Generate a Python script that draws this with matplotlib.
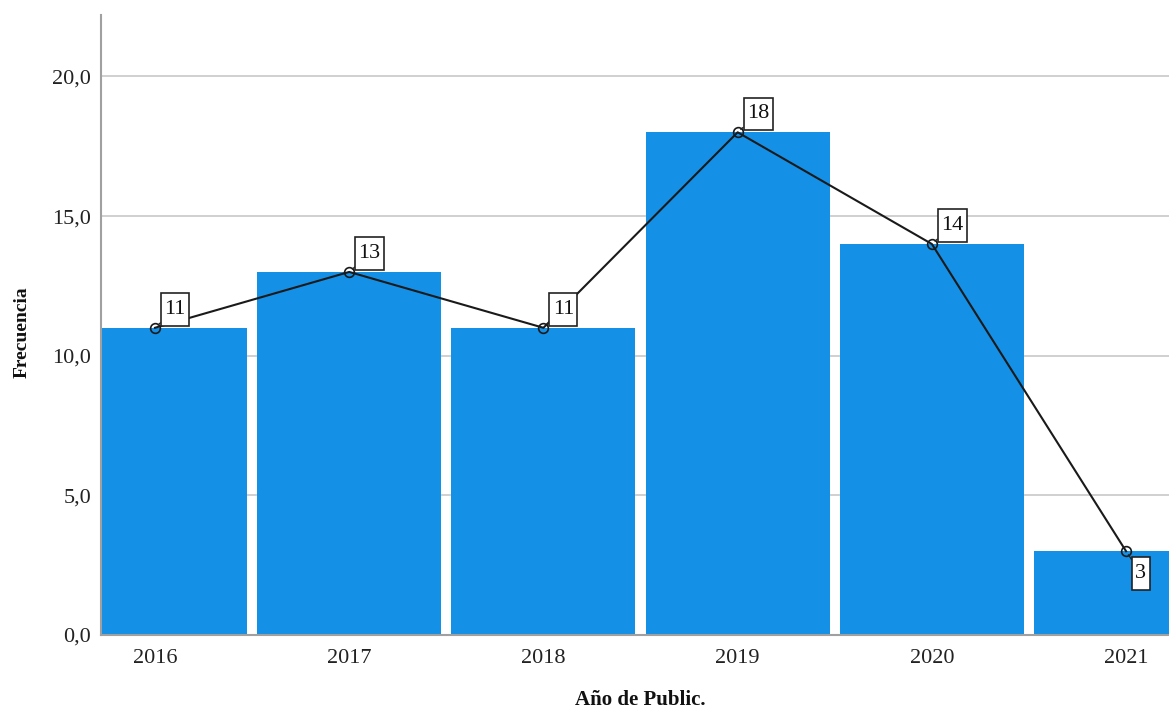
import matplotlib.pyplot as plt
from matplotlib.path import Path
from matplotlib.ticker import FuncFormatter

years = ['2016', '2017', '2018', '2019', '2020', '2021']
freq = [11, 13, 11, 18, 14, 3]
# label position for each point: above-right, except the last one below-right
label_below = [False, False, False, False, False, True]

plt.rcParams['font.family'] = ['Liberation Serif', 'DejaVu Serif']


def tall_box(x0, y0, width, height, mutation_size):
    # square label box with more vertical than horizontal padding
    px = 0.15 * mutation_size
    py = 0.31 * mutation_size
    l, r = x0 - px, x0 + width + px
    b, t = y0 - py, y0 + height + py
    return Path([(l, b), (r, b), (r, t), (l, t), (l, b)], closed=True)


fig = plt.figure(figsize=(11.69, 7.08), dpi=100)
ax = fig.add_axes([101 / 1169, 1 - 635 / 708, 1 - 101 / 1169, 620 / 708])

x = list(range(len(years)))
ax.bar(x, freq, width=0.948, color='#1490e6', zorder=2)
ax.plot(x, freq, color='#1a1a1a', linewidth=1.5, marker='o', markersize=7,
        markerfacecolor='none', markeredgecolor='#1a1a1a', markeredgewidth=1.2,
        zorder=3)

for xi, v, below in zip(x, freq, label_below):
    if below:
        off, va = (6.7, -9.3), 'top'
    else:
        off, va = (6.7, 6.4), 'bottom'
    ax.annotate(str(v), xy=(xi, v), xytext=off, textcoords='offset points',
                ha='left', va=va, fontsize=16, color='#111111', zorder=4,
                bbox=dict(boxstyle=tall_box, fc='white', ec='#222222', lw=1.2),
                arrowprops=dict(arrowstyle='-', color='#222222', lw=0.9,
                                shrinkA=0, shrinkB=3))

ax.set_xlim(-0.278, 5.221)
ax.set_ylim(0, 22.2)
ax.set_xticks(x)
ax.set_xticklabels(years)
ax.set_yticks([0, 5, 10, 15, 20])
ax.yaxis.set_major_formatter(FuncFormatter(lambda v, p: f'{v:.1f}'.replace('.', ',')))
ax.tick_params(axis='both', length=0, labelsize=16, labelcolor='#222222')
ax.tick_params(axis='x', pad=10)
ax.tick_params(axis='y', pad=7)

ax.grid(axis='y', color='#c8c8c8', linewidth=1.2, zorder=0)
ax.set_axisbelow(True)
for side in ['top', 'right']:
    ax.spines[side].set_visible(False)
for side in ['left', 'bottom']:
    ax.spines[side].set_color('#a0a0a0')
    ax.spines[side].set_linewidth(1.5)

fig.text(640 / 1169, 1 - 700 / 708, 'Año de Public.', ha='center', va='center',
         fontsize=15, fontweight='bold', color='#111111')
fig.text(22 / 1169, 1 - 332 / 708, 'Frecuencia', ha='center', va='center',
         rotation=90, fontsize=14, fontweight='bold', color='#111111')

fig.savefig('out.png', dpi=100)
